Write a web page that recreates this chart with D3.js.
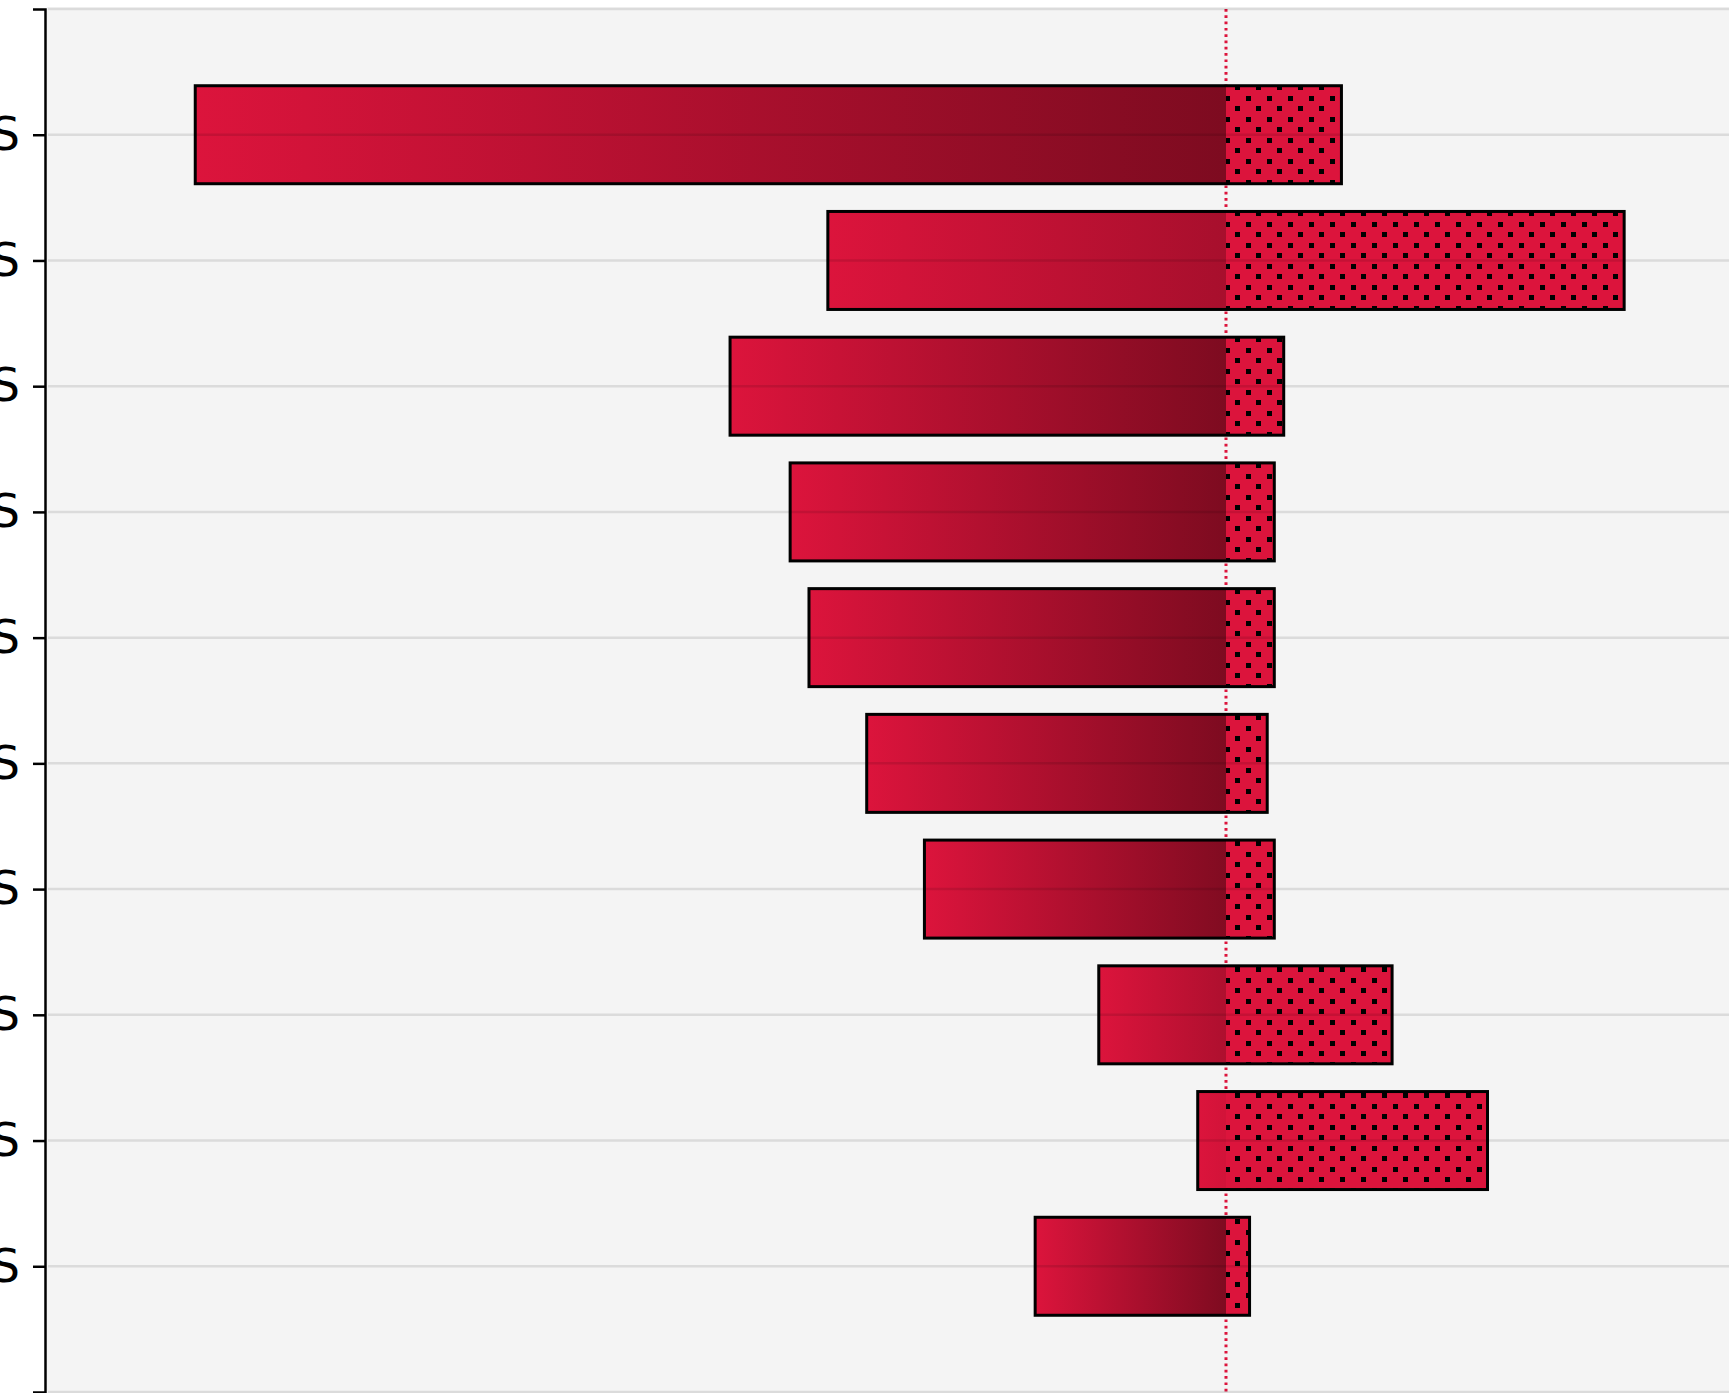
<!DOCTYPE html>
<html>
<head>
<meta charset="utf-8">
<script src="https://cdn.jsdelivr.net/npm/d3@7"></script>
<style>
  body { margin: 0; background: #fff; }
  svg { display: block; }
</style>
</head>
<body>
<div id="wrapper"></div>
<script>
// values (arbitrary units, zero at the dotted line)
const categories = ['GROUP A TOTALS', 'GROUP B TOTALS', 'GROUP C TOTALS', 'GROUP D TOTALS', 'GROUP E TOTALS',
  'GROUP F TOTALS', 'GROUP G TOTALS', 'GROUP H TOTALS', 'GROUP I TOTALS', 'GROUP J TOTALS'];
const lowValues = [-87.5, -33.8, -42.1, -37.0, -35.4, -30.5, -25.6, -10.8, -2.4, -16.2];
const highValues = [9.8, 33.8, 4.9, 4.1, 4.1, 3.5, 4.1, 14.1, 22.2, 2.0];
const xDomain = [-100, 42.7];

function drawChart() {
  const width = 1731;
  const height = 1393;
  const plot = { left: 47, right: 1729, top: 9, bottom: 1392 };

  const rows = categories.map((c, i) => ({ name: c, low: lowValues[i], high: highValues[i] }));

  const x = d3.scaleLinear().domain(xDomain).range([48, plot.right]);
  const y = d3.scalePoint().domain(categories).range([plot.top, plot.bottom]).padding(1);
  const barH = 98;

  const svg = d3.select('#wrapper').append('svg').attr('width', width).attr('height', height);
  const defs = svg.append('defs');

  // gradient across each whole bar
  const grad = defs.append('linearGradient').attr('id', 'barGrad')
    .attr('x1', 0).attr('x2', 1).attr('y1', 0).attr('y2', 0);
  grad.append('stop').attr('offset', '0%').attr('stop-color', '#dc143c');
  grad.append('stop').attr('offset', '100%').attr('stop-color', '#730a1d');

  // dotted pattern for the positive part
  const step = 21;
  const dot = 5;
  const pat = defs.append('pattern').attr('id', 'dots')
    .attr('patternUnits', 'userSpaceOnUse')
    .attr('width', step).attr('height', step)
    .attr('patternTransform', `translate(${Math.round(x(0)) - 1},${plot.top + 3})`);
  pat.append('rect').attr('width', step).attr('height', step).attr('fill', '#dc143c');
  pat.append('rect').attr('x', 0).attr('y', 0).attr('width', dot).attr('height', dot).attr('fill', '#000');
  pat.append('rect').attr('x', 10).attr('y', 10).attr('width', dot).attr('height', dot).attr('fill', '#000');

  // panel
  svg.append('rect')
    .attr('x', plot.left).attr('y', plot.top - 2)
    .attr('width', plot.right - plot.left).attr('height', height - plot.top + 2)
    .attr('fill', '#f4f4f4');

  // zero reference
  svg.append('line')
    .attr('x1', x(0)).attr('x2', x(0))
    .attr('y1', plot.top).attr('y2', plot.bottom)
    .attr('stroke', '#dc143c').attr('stroke-width', 3)
    .attr('stroke-dasharray', '2.7,3.6');

  const bars = svg.append('g').selectAll('g').data(rows).enter().append('g');

  bars.append('rect')
    .attr('x', (d) => x(d.low))
    .attr('y', (d) => y(d.name) - barH / 2)
    .attr('width', (d) => x(d.high) - x(d.low))
    .attr('height', barH)
    .attr('fill', 'url(#barGrad)');

  bars.append('rect')
    .attr('x', x(0))
    .attr('y', (d) => y(d.name) - barH / 2)
    .attr('width', (d) => x(d.high) - x(0))
    .attr('height', barH)
    .attr('fill', 'url(#dots)');

  bars.append('rect')
    .attr('x', (d) => x(d.low))
    .attr('y', (d) => y(d.name) - barH / 2)
    .attr('width', (d) => x(d.high) - x(d.low))
    .attr('height', barH)
    .attr('fill', 'none')
    .attr('stroke', '#000')
    .attr('stroke-width', 3);

  // grid lines sit on top of the bars
  const gridY = [plot.top].concat(categories.map((c) => y(c)), [plot.bottom]);
  svg.append('g').selectAll('line').data(gridY).enter().append('line')
    .attr('x1', plot.left + 1).attr('x2', plot.right)
    .attr('y1', (d) => d).attr('y2', (d) => d)
    .attr('stroke', 'rgba(0,0,0,0.1)').attr('stroke-width', 2.5);

  // y axis
  const axis = svg.append('g')
    .attr('transform', 'translate(45,0)')
    .call(d3.axisLeft(y).tickSize(12).tickSizeOuter(12).tickPadding(13));
  axis.select('.domain').attr('stroke', '#000').attr('stroke-width', 2.5);
  axis.selectAll('.tick line').attr('stroke', '#000').attr('stroke-width', 2.5);
  axis.selectAll('.tick text')
    .attr('fill', '#000')
    .style('font-family', 'DejaVu Sans, sans-serif')
    .style('font-size', '46px');
}

drawChart();
</script>
</body>
</html>
